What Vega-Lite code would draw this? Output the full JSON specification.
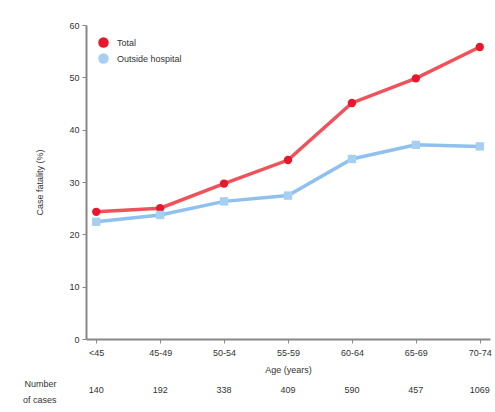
{
  "$schema": "https://vega.github.io/schema/vega-lite/v6.json",
  "padding": {"top": 21, "left": 22, "right": 0, "bottom": 0},
  "background": "white",
  "spacing": 4,
  "config": {
    "font": "Liberation Sans",
    "view": {"stroke": null},
    "axis": {"labelColor": "#333", "titleColor": "#333", "labelFontSize": 9, "titleFontSize": 9, "titleFontWeight": "normal", "domainColor": "#888", "domainWidth": 2, "tickColor": "#888", "tickSize": 4, "grid": false}
  },
  "datasets": {
    "rates": [
      {"age": "<45", "series": "Total", "rate": 24.3},
      {"age": "45-49", "series": "Total", "rate": 25.0},
      {"age": "50-54", "series": "Total", "rate": 29.7},
      {"age": "55-59", "series": "Total", "rate": 34.2},
      {"age": "60-64", "series": "Total", "rate": 45.1},
      {"age": "65-69", "series": "Total", "rate": 49.8},
      {"age": "70-74", "series": "Total", "rate": 55.8},
      {"age": "<45", "series": "Outside hospital", "rate": 22.4},
      {"age": "45-49", "series": "Outside hospital", "rate": 23.7},
      {"age": "50-54", "series": "Outside hospital", "rate": 26.3},
      {"age": "55-59", "series": "Outside hospital", "rate": 27.4},
      {"age": "60-64", "series": "Outside hospital", "rate": 34.4},
      {"age": "65-69", "series": "Outside hospital", "rate": 37.1},
      {"age": "70-74", "series": "Outside hospital", "rate": 36.8}
    ],
    "cases": [
      {"age": "<45", "n": "140"},
      {"age": "45-49", "n": "192"},
      {"age": "50-54", "n": "338"},
      {"age": "55-59", "n": "409"},
      {"age": "60-64", "n": "590"},
      {"age": "65-69", "n": "457"},
      {"age": "70-74", "n": "1069"}
    ]
  },
  "vconcat": [
    {
      "width": 404,
      "height": 314,
      "data": {"name": "rates"},
      "encoding": {
        "x": {"field": "age", "type": "ordinal", "sort": ["<45","45-49","50-54","55-59","60-64","65-69","70-74"], "scale": {"type": "point", "padding": 0.16}, "axis": {"title": "Age (years)", "labelAngle": 0, "labelPadding": 5, "titlePadding": 8}},
        "y": {"field": "rate", "type": "quantitative", "scale": {"domain": [0, 60]}, "axis": {"title": "Case fatality (%)", "values": [0,10,20,30,40,50,60], "titlePadding": 24, "labelPadding": 3}}
      },
      "layer": [
        {
          "mark": {"type": "line", "strokeWidth": 3.5},
          "encoding": {
            "stroke": {"field": "series", "type": "nominal", "scale": {"domain": ["Total", "Outside hospital"], "range": ["#f0525c", "#8fc0ee"]}, "legend": null}
          }
        },
        {
          "mark": {"type": "point", "filled": true, "size": 70, "opacity": 1},
          "encoding": {
            "color": {"field": "series", "type": "nominal", "scale": {"domain": ["Total", "Outside hospital"], "range": ["#e8182c", "#a6cff2"]}, "legend": {"title": null, "orient": "top-left", "offset": 12, "labelFontSize": 9, "labelColor": "#333", "symbolSize": 110, "symbolStrokeWidth": 0, "rowPadding": 5, "labelOffset": 8}},
            "shape": {"field": "series", "type": "nominal", "scale": {"domain": ["Total", "Outside hospital"], "range": ["circle", "square"]}}
          }
        }
      ],
      "resolve": {"scale": {"color": "independent"}}
    },
    {
      "width": 404,
      "height": 24,
      "data": {"name": "cases"},
      "mark": {"type": "text", "fontSize": 9, "color": "#333", "font": "Liberation Sans"},
      "encoding": {
        "x": {"field": "age", "type": "ordinal", "sort": ["<45","45-49","50-54","55-59","60-64","65-69","70-74"], "scale": {"type": "point", "padding": 0.16}, "axis": null},
        "y": {"datum": 0, "type": "quantitative", "scale": {"domain": [-1, 1]}, "axis": {"title": ["Number", "of cases"], "titleAngle": 0, "titleAlign": "right", "titleBaseline": "middle", "titleY": 5, "titleLineHeight": 16, "titlePadding": 14, "labels": false, "ticks": false, "domain": false, "titleFontSize": 9, "titleColor": "#333"}},
        "text": {"field": "n", "type": "nominal"}
      }
    }
  ]
}
